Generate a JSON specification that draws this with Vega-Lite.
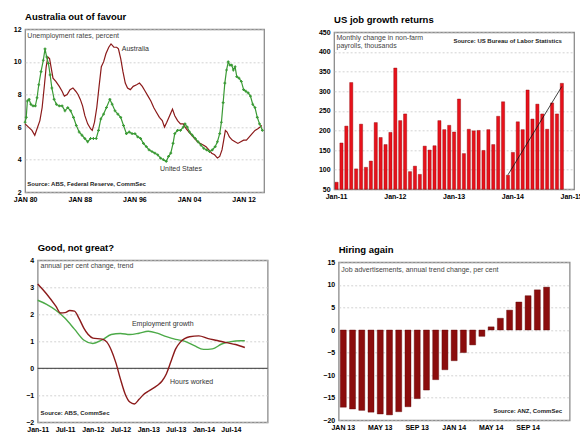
{
  "$schema": "https://vega.github.io/schema/vega-lite/v6.json",
  "background": "white",
  "padding": {"left": 12, "top": 10.3, "right": 2, "bottom": 2},
  "config": {
    "font": "Liberation Sans",
    "view": {"stroke": "#8c8c8c", "strokeWidth": 1.3},
    "axis": {"labelFont": "Liberation Sans", "labelFontSize": 7, "labelFontWeight": "bold", "labelColor": "#000", "domain": false, "ticks": false, "gridColor": "#c8c8c8", "gridDash": [2, 2], "gridWidth": 0.8, "labelPadding": 4, "labelOverlap": false, "labelFlush": false, "labelBound": false},
    "axisX": {"grid": false, "labelPadding": 3},
    "title": {"font": "Liberation Sans", "fontSize": 9.5, "fontWeight": "bold", "anchor": "start", "frame": "group", "offset": 0, "color": "#000"},
    "text": {"font": "Liberation Sans"}
  },
  "datasets": {
    "unemp": [
      {"date": "1980-01-01", "series": "Australia", "value": 6.2},
      {"date": "1980-07-01", "series": "Australia", "value": 6.0},
      {"date": "1981-01-01", "series": "Australia", "value": 5.8},
      {"date": "1981-06-01", "series": "Australia", "value": 5.5},
      {"date": "1981-10-01", "series": "Australia", "value": 5.9},
      {"date": "1982-03-01", "series": "Australia", "value": 6.4},
      {"date": "1982-07-01", "series": "Australia", "value": 7.2},
      {"date": "1982-11-01", "series": "Australia", "value": 8.6},
      {"date": "1983-02-01", "series": "Australia", "value": 9.7},
      {"date": "1983-05-01", "series": "Australia", "value": 10.3},
      {"date": "1983-08-01", "series": "Australia", "value": 10.2},
      {"date": "1983-11-01", "series": "Australia", "value": 9.6},
      {"date": "1984-02-01", "series": "Australia", "value": 9.0},
      {"date": "1984-07-01", "series": "Australia", "value": 8.8},
      {"date": "1985-01-01", "series": "Australia", "value": 8.5},
      {"date": "1985-06-01", "series": "Australia", "value": 8.2},
      {"date": "1985-10-01", "series": "Australia", "value": 7.9},
      {"date": "1986-03-01", "series": "Australia", "value": 8.0},
      {"date": "1986-08-01", "series": "Australia", "value": 8.3},
      {"date": "1987-01-01", "series": "Australia", "value": 8.4},
      {"date": "1987-06-01", "series": "Australia", "value": 8.2},
      {"date": "1987-10-01", "series": "Australia", "value": 8.0},
      {"date": "1988-02-01", "series": "Australia", "value": 7.7},
      {"date": "1988-06-01", "series": "Australia", "value": 7.3},
      {"date": "1988-10-01", "series": "Australia", "value": 6.7},
      {"date": "1989-03-01", "series": "Australia", "value": 6.2},
      {"date": "1989-08-01", "series": "Australia", "value": 5.9},
      {"date": "1989-11-01", "series": "Australia", "value": 5.8},
      {"date": "1990-03-01", "series": "Australia", "value": 6.3},
      {"date": "1990-07-01", "series": "Australia", "value": 7.2},
      {"date": "1990-11-01", "series": "Australia", "value": 8.5},
      {"date": "1991-03-01", "series": "Australia", "value": 9.7},
      {"date": "1991-07-01", "series": "Australia", "value": 10.0},
      {"date": "1991-11-01", "series": "Australia", "value": 10.5},
      {"date": "1992-04-01", "series": "Australia", "value": 10.9},
      {"date": "1992-08-01", "series": "Australia", "value": 11.1},
      {"date": "1993-01-01", "series": "Australia", "value": 10.9},
      {"date": "1993-06-01", "series": "Australia", "value": 10.9},
      {"date": "1993-09-01", "series": "Australia", "value": 10.8},
      {"date": "1994-01-01", "series": "Australia", "value": 10.2},
      {"date": "1994-05-01", "series": "Australia", "value": 9.4},
      {"date": "1994-09-01", "series": "Australia", "value": 8.7},
      {"date": "1995-01-01", "series": "Australia", "value": 8.4},
      {"date": "1995-06-01", "series": "Australia", "value": 8.3},
      {"date": "1995-11-01", "series": "Australia", "value": 8.5},
      {"date": "1996-05-01", "series": "Australia", "value": 8.6},
      {"date": "1996-10-01", "series": "Australia", "value": 8.7},
      {"date": "1997-03-01", "series": "Australia", "value": 8.5},
      {"date": "1997-08-01", "series": "Australia", "value": 8.2},
      {"date": "1998-01-01", "series": "Australia", "value": 7.9},
      {"date": "1998-06-01", "series": "Australia", "value": 7.6},
      {"date": "1998-11-01", "series": "Australia", "value": 7.2},
      {"date": "1999-04-01", "series": "Australia", "value": 6.9},
      {"date": "1999-09-01", "series": "Australia", "value": 6.6},
      {"date": "2000-02-01", "series": "Australia", "value": 6.4},
      {"date": "2000-06-01", "series": "Australia", "value": 6.0},
      {"date": "2000-10-01", "series": "Australia", "value": 6.3},
      {"date": "2001-03-01", "series": "Australia", "value": 6.7},
      {"date": "2001-08-01", "series": "Australia", "value": 7.1},
      {"date": "2001-12-01", "series": "Australia", "value": 6.7},
      {"date": "2002-05-01", "series": "Australia", "value": 6.4},
      {"date": "2002-10-01", "series": "Australia", "value": 6.2},
      {"date": "2003-03-01", "series": "Australia", "value": 6.2},
      {"date": "2003-08-01", "series": "Australia", "value": 5.9},
      {"date": "2004-01-01", "series": "Australia", "value": 5.7},
      {"date": "2004-06-01", "series": "Australia", "value": 5.5},
      {"date": "2004-11-01", "series": "Australia", "value": 5.3},
      {"date": "2005-04-01", "series": "Australia", "value": 5.1},
      {"date": "2005-09-01", "series": "Australia", "value": 5.0},
      {"date": "2006-02-01", "series": "Australia", "value": 4.9},
      {"date": "2006-07-01", "series": "Australia", "value": 4.8},
      {"date": "2006-12-01", "series": "Australia", "value": 4.6},
      {"date": "2007-05-01", "series": "Australia", "value": 4.4},
      {"date": "2007-10-01", "series": "Australia", "value": 4.3},
      {"date": "2008-03-01", "series": "Australia", "value": 4.1},
      {"date": "2008-07-01", "series": "Australia", "value": 4.2},
      {"date": "2008-11-01", "series": "Australia", "value": 4.6},
      {"date": "2009-02-01", "series": "Australia", "value": 5.2},
      {"date": "2009-05-01", "series": "Australia", "value": 5.8},
      {"date": "2009-08-01", "series": "Australia", "value": 5.7},
      {"date": "2009-12-01", "series": "Australia", "value": 5.4},
      {"date": "2010-05-01", "series": "Australia", "value": 5.2},
      {"date": "2010-10-01", "series": "Australia", "value": 5.1},
      {"date": "2011-03-01", "series": "Australia", "value": 5.0},
      {"date": "2011-08-01", "series": "Australia", "value": 5.1},
      {"date": "2012-01-01", "series": "Australia", "value": 5.2},
      {"date": "2012-06-01", "series": "Australia", "value": 5.2},
      {"date": "2012-11-01", "series": "Australia", "value": 5.4},
      {"date": "2013-04-01", "series": "Australia", "value": 5.6},
      {"date": "2013-09-01", "series": "Australia", "value": 5.8},
      {"date": "2014-02-01", "series": "Australia", "value": 5.9},
      {"date": "2014-06-01", "series": "Australia", "value": 6.0},
      {"date": "2014-09-01", "series": "Australia", "value": 6.1},
      {"date": "1980-01-01", "series": "United States", "value": 6.3},
      {"date": "1980-03-01", "series": "United States", "value": 6.6},
      {"date": "1980-05-01", "series": "United States", "value": 7.6},
      {"date": "1980-08-01", "series": "United States", "value": 7.7},
      {"date": "1980-11-01", "series": "United States", "value": 7.4},
      {"date": "1981-03-01", "series": "United States", "value": 7.3},
      {"date": "1981-07-01", "series": "United States", "value": 7.3},
      {"date": "1981-10-01", "series": "United States", "value": 7.8},
      {"date": "1982-01-01", "series": "United States", "value": 8.6},
      {"date": "1982-05-01", "series": "United States", "value": 9.4},
      {"date": "1982-09-01", "series": "United States", "value": 10.1},
      {"date": "1982-12-01", "series": "United States", "value": 10.8},
      {"date": "1983-03-01", "series": "United States", "value": 10.3},
      {"date": "1983-06-01", "series": "United States", "value": 9.9},
      {"date": "1983-09-01", "series": "United States", "value": 9.2},
      {"date": "1983-12-01", "series": "United States", "value": 8.4},
      {"date": "1984-04-01", "series": "United States", "value": 7.7},
      {"date": "1984-08-01", "series": "United States", "value": 7.4},
      {"date": "1985-01-01", "series": "United States", "value": 7.3},
      {"date": "1985-06-01", "series": "United States", "value": 7.3},
      {"date": "1985-11-01", "series": "United States", "value": 7.0},
      {"date": "1986-04-01", "series": "United States", "value": 7.2},
      {"date": "1986-09-01", "series": "United States", "value": 7.0},
      {"date": "1987-02-01", "series": "United States", "value": 6.6},
      {"date": "1987-07-01", "series": "United States", "value": 6.1},
      {"date": "1987-12-01", "series": "United States", "value": 5.7},
      {"date": "1988-05-01", "series": "United States", "value": 5.5},
      {"date": "1988-10-01", "series": "United States", "value": 5.3},
      {"date": "1989-03-01", "series": "United States", "value": 5.1},
      {"date": "1989-08-01", "series": "United States", "value": 5.3},
      {"date": "1990-01-01", "series": "United States", "value": 5.3},
      {"date": "1990-06-01", "series": "United States", "value": 5.3},
      {"date": "1990-10-01", "series": "United States", "value": 5.8},
      {"date": "1991-02-01", "series": "United States", "value": 6.5},
      {"date": "1991-07-01", "series": "United States", "value": 6.8},
      {"date": "1991-12-01", "series": "United States", "value": 7.2},
      {"date": "1992-06-01", "series": "United States", "value": 7.7},
      {"date": "1992-10-01", "series": "United States", "value": 7.4},
      {"date": "1993-03-01", "series": "United States", "value": 7.0},
      {"date": "1993-08-01", "series": "United States", "value": 6.8},
      {"date": "1994-01-01", "series": "United States", "value": 6.6},
      {"date": "1994-06-01", "series": "United States", "value": 6.1},
      {"date": "1994-11-01", "series": "United States", "value": 5.6},
      {"date": "1995-04-01", "series": "United States", "value": 5.7},
      {"date": "1995-09-01", "series": "United States", "value": 5.6},
      {"date": "1996-02-01", "series": "United States", "value": 5.6},
      {"date": "1996-07-01", "series": "United States", "value": 5.4},
      {"date": "1996-12-01", "series": "United States", "value": 5.3},
      {"date": "1997-05-01", "series": "United States", "value": 5.0},
      {"date": "1997-10-01", "series": "United States", "value": 4.8},
      {"date": "1998-03-01", "series": "United States", "value": 4.6},
      {"date": "1998-08-01", "series": "United States", "value": 4.5},
      {"date": "1999-01-01", "series": "United States", "value": 4.4},
      {"date": "1999-06-01", "series": "United States", "value": 4.3},
      {"date": "1999-11-01", "series": "United States", "value": 4.1},
      {"date": "2000-04-01", "series": "United States", "value": 4.0},
      {"date": "2000-09-01", "series": "United States", "value": 3.9},
      {"date": "2001-01-01", "series": "United States", "value": 4.2},
      {"date": "2001-05-01", "series": "United States", "value": 4.4},
      {"date": "2001-09-01", "series": "United States", "value": 5.0},
      {"date": "2001-12-01", "series": "United States", "value": 5.6},
      {"date": "2002-05-01", "series": "United States", "value": 5.8},
      {"date": "2002-10-01", "series": "United States", "value": 5.8},
      {"date": "2003-03-01", "series": "United States", "value": 6.0},
      {"date": "2003-06-01", "series": "United States", "value": 6.2},
      {"date": "2003-10-01", "series": "United States", "value": 6.0},
      {"date": "2004-02-01", "series": "United States", "value": 5.7},
      {"date": "2004-07-01", "series": "United States", "value": 5.5},
      {"date": "2004-12-01", "series": "United States", "value": 5.3},
      {"date": "2005-05-01", "series": "United States", "value": 5.1},
      {"date": "2005-10-01", "series": "United States", "value": 4.9},
      {"date": "2006-03-01", "series": "United States", "value": 4.7},
      {"date": "2006-08-01", "series": "United States", "value": 4.6},
      {"date": "2007-01-01", "series": "United States", "value": 4.5},
      {"date": "2007-06-01", "series": "United States", "value": 4.6},
      {"date": "2007-11-01", "series": "United States", "value": 4.8},
      {"date": "2008-03-01", "series": "United States", "value": 5.1},
      {"date": "2008-07-01", "series": "United States", "value": 5.6},
      {"date": "2008-10-01", "series": "United States", "value": 6.3},
      {"date": "2009-01-01", "series": "United States", "value": 7.5},
      {"date": "2009-04-01", "series": "United States", "value": 8.7},
      {"date": "2009-07-01", "series": "United States", "value": 9.5},
      {"date": "2009-10-01", "series": "United States", "value": 10.0},
      {"date": "2010-01-01", "series": "United States", "value": 9.8},
      {"date": "2010-04-01", "series": "United States", "value": 9.8},
      {"date": "2010-07-01", "series": "United States", "value": 9.5},
      {"date": "2010-10-01", "series": "United States", "value": 9.7},
      {"date": "2011-01-01", "series": "United States", "value": 9.1},
      {"date": "2011-05-01", "series": "United States", "value": 9.0},
      {"date": "2011-09-01", "series": "United States", "value": 8.8},
      {"date": "2012-01-01", "series": "United States", "value": 8.3},
      {"date": "2012-05-01", "series": "United States", "value": 8.2},
      {"date": "2012-09-01", "series": "United States", "value": 8.1},
      {"date": "2013-01-01", "series": "United States", "value": 7.9},
      {"date": "2013-05-01", "series": "United States", "value": 7.4},
      {"date": "2013-09-01", "series": "United States", "value": 7.2},
      {"date": "2014-01-01", "series": "United States", "value": 6.6},
      {"date": "2014-05-01", "series": "United States", "value": 6.2},
      {"date": "2014-10-01", "series": "United States", "value": 5.8}
    ],
    "payrolls": [
      {"month": "Jan-11", "value": 68}, {"month": "Feb-11", "value": 168}, {"month": "Mar-11", "value": 211}, {"month": "Apr-11", "value": 322},
      {"month": "May-11", "value": 102}, {"month": "Jun-11", "value": 216}, {"month": "Jul-11", "value": 106}, {"month": "Aug-11", "value": 122},
      {"month": "Sep-11", "value": 220}, {"month": "Oct-11", "value": 182}, {"month": "Nov-11", "value": 164}, {"month": "Dec-11", "value": 195},
      {"month": "Jan-12", "value": 359}, {"month": "Feb-12", "value": 225}, {"month": "Mar-12", "value": 242}, {"month": "Apr-12", "value": 95},
      {"month": "May-12", "value": 109}, {"month": "Jun-12", "value": 88}, {"month": "Jul-12", "value": 160}, {"month": "Aug-12", "value": 150},
      {"month": "Sep-12", "value": 161}, {"month": "Oct-12", "value": 225}, {"month": "Nov-12", "value": 202}, {"month": "Dec-12", "value": 213},
      {"month": "Jan-13", "value": 196}, {"month": "Feb-13", "value": 280}, {"month": "Mar-13", "value": 141}, {"month": "Apr-13", "value": 203},
      {"month": "May-13", "value": 199}, {"month": "Jun-13", "value": 200}, {"month": "Jul-13", "value": 149}, {"month": "Aug-13", "value": 202},
      {"month": "Sep-13", "value": 164}, {"month": "Oct-13", "value": 236}, {"month": "Nov-13", "value": 273}, {"month": "Dec-13", "value": 86},
      {"month": "Jan-14", "value": 144}, {"month": "Feb-14", "value": 222}, {"month": "Mar-14", "value": 202}, {"month": "Apr-14", "value": 303},
      {"month": "May-14", "value": 229}, {"month": "Jun-14", "value": 267}, {"month": "Jul-14", "value": 242}, {"month": "Aug-14", "value": 203},
      {"month": "Sep-14", "value": 270}, {"month": "Oct-14", "value": 242}, {"month": "Nov-14", "value": 320}
    ],
    "trend": [
      {"date": "2011-01-01", "series": "Employment growth", "value": 2.52},
      {"date": "2011-03-01", "series": "Employment growth", "value": 2.37},
      {"date": "2011-05-01", "series": "Employment growth", "value": 2.15},
      {"date": "2011-07-01", "series": "Employment growth", "value": 1.85},
      {"date": "2011-09-01", "series": "Employment growth", "value": 1.45},
      {"date": "2011-11-01", "series": "Employment growth", "value": 1.05},
      {"date": "2012-01-01", "series": "Employment growth", "value": 0.92},
      {"date": "2012-03-01", "series": "Employment growth", "value": 1.05},
      {"date": "2012-05-01", "series": "Employment growth", "value": 1.25},
      {"date": "2012-07-01", "series": "Employment growth", "value": 1.29},
      {"date": "2012-09-01", "series": "Employment growth", "value": 1.25},
      {"date": "2012-11-01", "series": "Employment growth", "value": 1.3},
      {"date": "2013-01-01", "series": "Employment growth", "value": 1.37},
      {"date": "2013-03-01", "series": "Employment growth", "value": 1.3},
      {"date": "2013-05-01", "series": "Employment growth", "value": 1.17},
      {"date": "2013-07-01", "series": "Employment growth", "value": 1.07},
      {"date": "2013-09-01", "series": "Employment growth", "value": 1.0},
      {"date": "2013-11-01", "series": "Employment growth", "value": 0.84},
      {"date": "2014-01-01", "series": "Employment growth", "value": 0.7},
      {"date": "2014-03-01", "series": "Employment growth", "value": 0.72},
      {"date": "2014-05-01", "series": "Employment growth", "value": 0.9},
      {"date": "2014-07-01", "series": "Employment growth", "value": 0.99},
      {"date": "2014-09-01", "series": "Employment growth", "value": 1.02},
      {"date": "2014-10-01", "series": "Employment growth", "value": 1.02},
      {"date": "2011-01-01", "series": "Hours worked", "value": 3.12},
      {"date": "2011-03-01", "series": "Hours worked", "value": 2.75},
      {"date": "2011-05-01", "series": "Hours worked", "value": 2.3},
      {"date": "2011-06-01", "series": "Hours worked", "value": 2.05},
      {"date": "2011-07-01", "series": "Hours worked", "value": 2.06},
      {"date": "2011-08-01", "series": "Hours worked", "value": 2.14},
      {"date": "2011-09-01", "series": "Hours worked", "value": 2.12},
      {"date": "2011-10-01", "series": "Hours worked", "value": 1.85},
      {"date": "2011-11-01", "series": "Hours worked", "value": 1.5},
      {"date": "2011-12-01", "series": "Hours worked", "value": 1.25},
      {"date": "2012-01-01", "series": "Hours worked", "value": 1.12},
      {"date": "2012-03-01", "series": "Hours worked", "value": 1.08},
      {"date": "2012-04-01", "series": "Hours worked", "value": 0.98},
      {"date": "2012-05-01", "series": "Hours worked", "value": 0.68},
      {"date": "2012-06-01", "series": "Hours worked", "value": 0.2},
      {"date": "2012-07-01", "series": "Hours worked", "value": -0.4},
      {"date": "2012-08-01", "series": "Hours worked", "value": -0.95},
      {"date": "2012-09-01", "series": "Hours worked", "value": -1.25},
      {"date": "2012-10-01", "series": "Hours worked", "value": -1.32},
      {"date": "2012-11-01", "series": "Hours worked", "value": -1.15},
      {"date": "2012-12-01", "series": "Hours worked", "value": -0.97},
      {"date": "2013-01-01", "series": "Hours worked", "value": -0.85},
      {"date": "2013-03-01", "series": "Hours worked", "value": -0.64},
      {"date": "2013-04-01", "series": "Hours worked", "value": -0.48},
      {"date": "2013-05-01", "series": "Hours worked", "value": -0.2},
      {"date": "2013-06-01", "series": "Hours worked", "value": 0.27},
      {"date": "2013-07-01", "series": "Hours worked", "value": 0.72},
      {"date": "2013-08-01", "series": "Hours worked", "value": 0.97},
      {"date": "2013-10-01", "series": "Hours worked", "value": 1.17},
      {"date": "2013-12-01", "series": "Hours worked", "value": 1.2},
      {"date": "2014-02-01", "series": "Hours worked", "value": 1.1},
      {"date": "2014-04-01", "series": "Hours worked", "value": 1.03},
      {"date": "2014-06-01", "series": "Hours worked", "value": 0.95},
      {"date": "2014-08-01", "series": "Hours worked", "value": 0.88},
      {"date": "2014-10-01", "series": "Hours worked", "value": 0.77}
    ],
    "ads": [
      {"month": "JAN 13", "value": -17.1}, {"month": "FEB 13", "value": -17.5}, {"month": "MAR 13", "value": -17.8}, {"month": "APR 13", "value": -18.2},
      {"month": "MAY 13", "value": -18.6}, {"month": "JUN 13", "value": -18.8}, {"month": "JUL 13", "value": -18.1}, {"month": "AUG 13", "value": -17.0},
      {"month": "SEP 13", "value": -15.2}, {"month": "OCT 13", "value": -13.3}, {"month": "NOV 13", "value": -11.0}, {"month": "DEC 13", "value": -8.8},
      {"month": "JAN 14", "value": -6.8}, {"month": "FEB 14", "value": -5.0}, {"month": "MAR 14", "value": -3.3}, {"month": "APR 14", "value": -1.4},
      {"month": "MAY 14", "value": 0.7}, {"month": "JUN 14", "value": 2.6}, {"month": "JUL 14", "value": 4.4}, {"month": "AUG 14", "value": 6.2},
      {"month": "SEP 14", "value": 7.6}, {"month": "OCT 14", "value": 8.9}, {"month": "NOV 14", "value": 9.5}
    ]
  },
  "vconcat": [
    {
      "hconcat": [
        {
          "width": 239,
          "height": 163,
          "title": "Australia out of favour",
          "layer": [
            {
              "data": {"name": "unemp"},
              "mark": {"type": "line", "strokeWidth": 1.2},
              "encoding": {
                "x": {"field": "date", "type": "temporal", "scale": {"domain": [{"year": 1980, "month": 1, "date": 1}, {"year": 2015, "month": 1, "date": 1}]},
                  "axis": {"title": null, "tickCount": 50, "values": [{"year": 1980, "month": 1, "date": 1}, {"year": 1988, "month": 1, "date": 1}, {"year": 1996, "month": 1, "date": 1}, {"year": 2004, "month": 1, "date": 1}, {"year": 2012, "month": 1, "date": 1}], "labelExpr": "upper(timeFormat(datum.value, '%b %y'))"}},
                "y": {"field": "value", "type": "quantitative", "scale": {"domain": [2, 12]}, "axis": {"title": null, "tickCount": 50, "format": "d", "values": [2, 4, 6, 8, 10, 12], "grid": true}},
                "color": {"field": "series", "type": "nominal", "scale": {"domain": ["Australia", "United States"], "range": ["#8b1a1a", "#3a9a35"]}, "legend": null}
              }
            },
            {
              "data": {"name": "unemp"},
              "transform": [{"filter": "datum.series == 'United States'"}],
              "mark": {"type": "point", "shape": "cross", "filled": true, "size": 8, "color": "#3a9a35", "opacity": 1},
              "encoding": {
                "x": {"field": "date", "type": "temporal"},
                "y": {"field": "value", "type": "quantitative"}
              }
            },
            {
              "data": {"values": [{"date": "1994-03-01", "value": 10.8, "label": "Australia"}, {"date": "1999-10-01", "value": 3.43, "label": "United States"}]},
              "mark": {"type": "text", "align": "left", "baseline": "middle", "fontSize": 7, "color": "#333"},
              "encoding": {"x": {"field": "date", "type": "temporal"}, "y": {"field": "value", "type": "quantitative"}, "text": {"field": "label"}}
            },
            {
              "data": {"values": [{"date": "1980-05-01", "value": 11.6, "label": "Unemployment rates, percent"}]},
              "mark": {"type": "text", "align": "left", "baseline": "middle", "fontSize": 7, "color": "#444"},
              "encoding": {"x": {"field": "date", "type": "temporal"}, "y": {"field": "value", "type": "quantitative"}, "text": {"field": "label"}}
            },
            {
              "data": {"values": [{"date": "1980-05-01", "value": 2.5, "label": "Source: ABS, Federal Reserve, CommSec"}]},
              "mark": {"type": "text", "align": "left", "baseline": "middle", "fontSize": 6, "fontWeight": "bold", "color": "#222"},
              "encoding": {"x": {"field": "date", "type": "temporal"}, "y": {"field": "value", "type": "quantitative"}, "text": {"field": "label"}}
            }
          ],
          "resolve": {"scale": {"color": "independent"}}
        },
        {
          "width": 240,
          "height": 157,
          "title": "US job growth returns",
          "layer": [
            {
              "data": {"name": "payrolls"},
              "mark": {"type": "bar", "color": "#e8111b", "stroke": "#8a0000", "strokeWidth": 0.4},
              "encoding": {
                "x": {"field": "month", "type": "ordinal", "sort": null,
                  "scale": {"domain": ["Jan-11","Feb-11","Mar-11","Apr-11","May-11","Jun-11","Jul-11","Aug-11","Sep-11","Oct-11","Nov-11","Dec-11","Jan-12","Feb-12","Mar-12","Apr-12","May-12","Jun-12","Jul-12","Aug-12","Sep-12","Oct-12","Nov-12","Dec-12","Jan-13","Feb-13","Mar-13","Apr-13","May-13","Jun-13","Jul-13","Aug-13","Sep-13","Oct-13","Nov-13","Dec-13","Jan-14","Feb-14","Mar-14","Apr-14","May-14","Jun-14","Jul-14","Aug-14","Sep-14","Oct-14","Nov-14","Dec-14","Jan-15"], "paddingInner": 0.35, "paddingOuter": 0.175},
                  "axis": {"title": null, "labelAngle": 0, "labelExpr": "slice(datum.label, 0, 3) == 'Jan' ? datum.label : ''"}},
                "y": {"field": "value", "type": "quantitative", "scale": {"domain": [50, 450]}, "axis": {"title": null, "tickCount": 50, "format": "d", "values": [50, 100, 150, 200, 250, 300, 350, 400, 450], "grid": true}},
                "y2": {"datum": 50}
              }
            },
            {
              "data": {"values": [{"month": "Dec-13", "value": 87}, {"month": "Nov-14", "value": 312}]},
              "mark": {"type": "line", "color": "#111", "strokeWidth": 0.8},
              "encoding": {"x": {"field": "month", "type": "ordinal"}, "y": {"field": "value", "type": "quantitative"}}
            },
            {
              "data": {"values": [{"month": "Jan-11", "value": 436, "label": "Monthly change in non-farm|payrolls, thousands"}]},
              "mark": {"type": "text", "align": "left", "baseline": "middle", "fontSize": 7, "color": "#444", "lineBreak": "|", "lineHeight": 8.5, "dx": 0},
              "encoding": {"x": {"field": "month", "type": "ordinal"}, "y": {"field": "value", "type": "quantitative"}, "text": {"field": "label"}}
            },
            {
              "data": {"values": [{"month": "Nov-14", "value": 428, "label": "Source: US Bureau of Labor Statistics"}]},
              "mark": {"type": "text", "align": "right", "baseline": "middle", "fontSize": 6, "fontWeight": "bold", "color": "#222"},
              "encoding": {"x": {"field": "month", "type": "ordinal"}, "y": {"field": "value", "type": "quantitative"}, "text": {"field": "label"}}
            }
          ]
        }
      ],
      "spacing": 70,
      "bounds": "flush",
      "center": true
    },
    {
      "hconcat": [
        {
          "width": 230,
          "height": 162,
          "title": "Good, not great?",
          "layer": [
            {
              "data": {"values": [{"value": 0}]},
              "mark": {"type": "rule", "color": "#333", "strokeWidth": 1},
              "encoding": {"y": {"field": "value", "type": "quantitative"}}
            },
            {
              "data": {"name": "trend"},
              "mark": {"type": "line", "strokeWidth": 1.4, "interpolate": "monotone"},
              "encoding": {
                "x": {"field": "date", "type": "temporal", "scale": {"domain": [{"year": 2011, "month": 1, "date": 1}, {"year": 2015, "month": 3, "date": 1}]},
                  "axis": {"title": null, "tickCount": 50, "values": [{"year": 2011, "month": 1, "date": 1}, {"year": 2011, "month": 7, "date": 1}, {"year": 2012, "month": 1, "date": 1}, {"year": 2012, "month": 7, "date": 1}, {"year": 2013, "month": 1, "date": 1}, {"year": 2013, "month": 7, "date": 1}, {"year": 2014, "month": 1, "date": 1}, {"year": 2014, "month": 7, "date": 1}], "format": "%b-%y"}},
                "y": {"field": "value", "type": "quantitative", "scale": {"domain": [-2, 4]}, "axis": {"title": null, "tickCount": 50, "format": "d", "values": [-2, -1, 0, 1, 2, 3, 4], "grid": true}},
                "color": {"field": "series", "type": "nominal", "scale": {"domain": ["Employment growth", "Hours worked"], "range": ["#4caa48", "#8b1a1a"]}, "legend": null}
              }
            },
            {
              "data": {"values": [{"date": "2012-09-15", "value": 1.65, "label": "Employment growth"}, {"date": "2013-05-25", "value": -0.51, "label": "Hours worked"}]},
              "mark": {"type": "text", "align": "left", "baseline": "middle", "fontSize": 7, "color": "#333"},
              "encoding": {"x": {"field": "date", "type": "temporal"}, "y": {"field": "value", "type": "quantitative"}, "text": {"field": "label"}}
            },
            {
              "data": {"values": [{"date": "2011-01-20", "value": 3.79, "label": "annual per cent change, trend"}]},
              "mark": {"type": "text", "align": "left", "baseline": "middle", "fontSize": 7, "color": "#444"},
              "encoding": {"x": {"field": "date", "type": "temporal"}, "y": {"field": "value", "type": "quantitative"}, "text": {"field": "label"}}
            },
            {
              "data": {"values": [{"date": "2011-01-20", "value": -1.64, "label": "Source: ABS, CommSec"}]},
              "mark": {"type": "text", "align": "left", "baseline": "middle", "fontSize": 6, "fontWeight": "bold", "color": "#222"},
              "encoding": {"x": {"field": "date", "type": "temporal"}, "y": {"field": "value", "type": "quantitative"}, "text": {"field": "label"}}
            }
          ]
        },
        {
          "width": 231,
          "height": 158,
          "title": "Hiring again",
          "layer": [
            {
              "data": {"name": "ads"},
              "mark": {"type": "bar", "color": "#8b0d0d", "stroke": "#5a0000", "strokeWidth": 0.4},
              "encoding": {
                "x": {"field": "month", "type": "ordinal", "sort": null,
                  "scale": {"domain": ["JAN 13","FEB 13","MAR 13","APR 13","MAY 13","JUN 13","JUL 13","AUG 13","SEP 13","OCT 13","NOV 13","DEC 13","JAN 14","FEB 14","MAR 14","APR 14","MAY 14","JUN 14","JUL 14","AUG 14","SEP 14","OCT 14","NOV 14","DEC 14","JAN 15"], "paddingInner": 0.35, "paddingOuter": 0.175},
                  "axis": {"title": null, "labelAngle": 0, "labelExpr": "(indexof(['JAN', 'MAY', 'SEP'], slice(datum.label, 0, 3)) >= 0 && datum.label != 'JAN 15') ? datum.label : ''"}},
                "y": {"field": "value", "type": "quantitative", "scale": {"domain": [-20, 15]}, "axis": {"title": null, "tickCount": 50, "format": "d", "values": [-20, -15, -10, -5, 0, 5, 10, 15], "grid": true}}
              }
            },
            {
              "data": {"values": [{"month": "JAN 13", "value": 13.3, "label": "Job advertisements, annual trend change, per cent"}]},
              "mark": {"type": "text", "align": "left", "baseline": "middle", "fontSize": 7, "color": "#444", "dx": -2},
              "encoding": {"x": {"field": "month", "type": "ordinal"}, "y": {"field": "value", "type": "quantitative"}, "text": {"field": "label"}}
            },
            {
              "data": {"values": [{"month": "JAN 15", "value": -17.9, "label": "Source: ANZ, CommSec"}]},
              "mark": {"type": "text", "align": "right", "baseline": "middle", "fontSize": 6, "fontWeight": "bold", "color": "#222", "dx": -3},
              "encoding": {"x": {"field": "month", "type": "ordinal"}, "y": {"field": "value", "type": "quantitative"}, "text": {"field": "label"}}
            }
          ]
        }
      ],
      "spacing": 71,
      "bounds": "flush",
      "center": true
    }
  ],
  "spacing": 38,
  "center": true
}
